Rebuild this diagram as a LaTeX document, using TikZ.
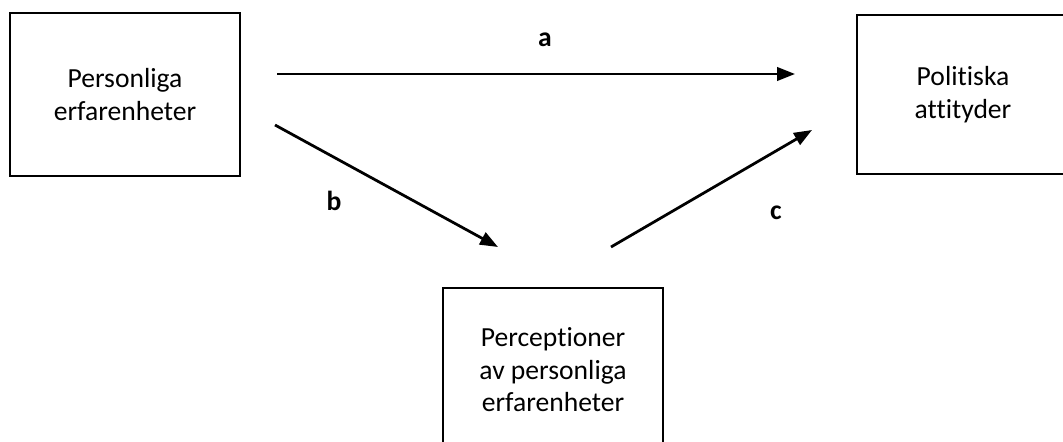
\documentclass[tikz,border=0pt]{standalone}
\usepackage{fontspec}
\setmainfont{Carlito}[Ligatures={NoCommon}]
\usetikzlibrary{arrows.meta}

\begin{document}
\begin{tikzpicture}[x=0.4348pt,y=-0.4348pt,
  mybox/.style={draw,line width=0.9pt,align=center,inner sep=0,
    font=\fontsize{12}{14.1}\selectfont},
  myarrow/.style={line width=1.2pt,-{Triangle[length=7.8pt,width=5.8pt]}},
  mylabel/.style={font=\fontsize{12}{14.1}\selectfont\bfseries}]
\clip (0,0) rectangle (1063,442);
\useasboundingbox (0,0) rectangle (1063,442);
\node [mybox,minimum width=100pt,minimum height=70.9pt] (personal) at (125,94.5) {Personliga\\erfarenheter};
\node [mybox,minimum width=92.2pt,minimum height=69.1pt] (politics) at (963,94.5) {Politiska\\attityder};
\node [mybox,minimum width=95.7pt,minimum height=71.3pt] (perception) at (553,370) {Perceptioner\\av personliga\\erfarenheter};
\coordinate (aStart) at (277,74);
\coordinate (aEnd) at (795,74);
\coordinate (bStart) at (275,125);
\coordinate (bEnd) at (498,247);
\coordinate (cStart) at (611,247);
\coordinate (cEnd) at (812,130);
\draw [myarrow] (aStart) -- (aEnd);
\draw [myarrow] (bStart) -- (bEnd);
\draw [myarrow] (cStart) -- (cEnd);
  \foreach \txt/\x/\y in {a/545/40,b/334/201,c/776/213}
  {  \node [mylabel] (label\txt) at (\x,\y) {\txt};}
\end{tikzpicture}
\end{document}
